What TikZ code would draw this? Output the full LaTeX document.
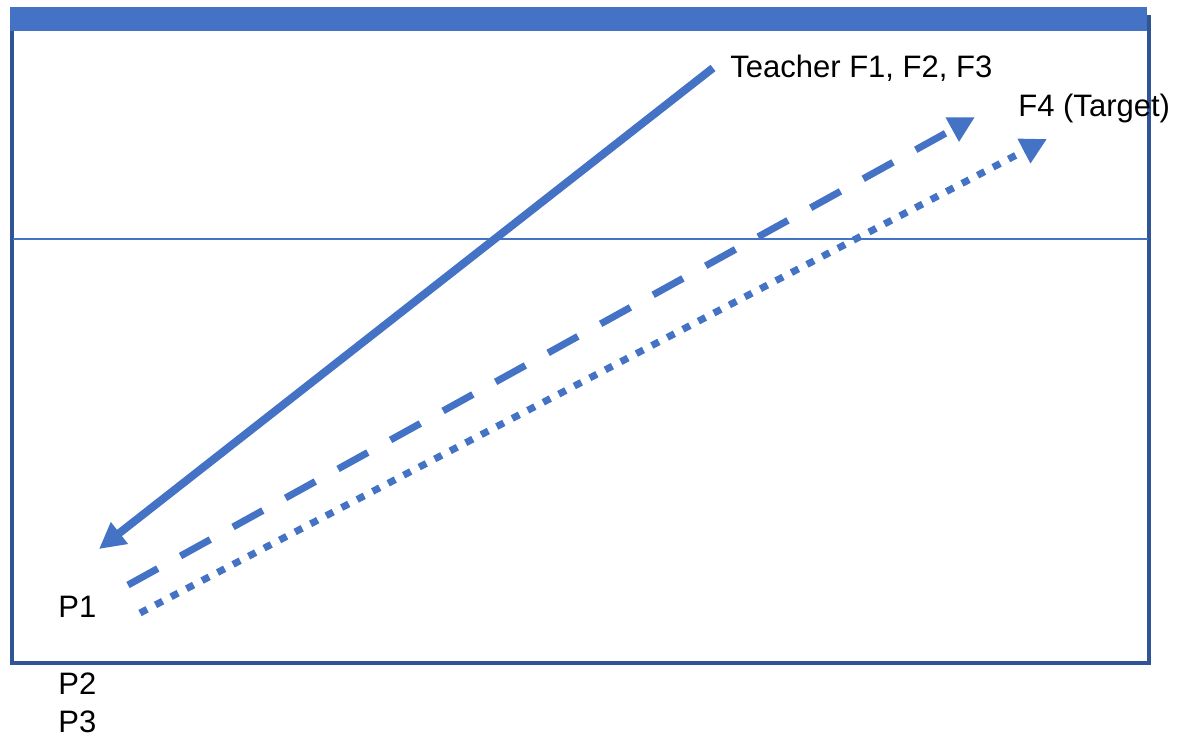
\documentclass[tikz,border=0pt]{standalone}
\usepackage{fontspec}
\setmainfont{Liberation Sans}
\usetikzlibrary{arrows.meta, positioning}
\definecolor{FrameBlue}{HTML}{2F5597}
\definecolor{AccentBlue}{HTML}{4472C4}
\tikzset{
  tag/.style={inner sep=0pt, anchor=base west, font=\fontsize{15.5}{18}\selectfont},
  frame/.style={draw=FrameBlue, line width=2pt},
  headbar/.style={fill=AccentBlue},
  divider/.style={draw=AccentBlue, line width=1.2pt},
  solidarrow/.style={-{Triangle[length=13pt, width=13pt]}, line width=4pt, draw=AccentBlue},
  dasharrow/.style={-{Triangle[length=13pt, width=13pt]}, line width=3.5pt, draw=AccentBlue, dash pattern=on 17pt off 13pt},
  dotarrow/.style={-{Triangle[length=13pt, width=13pt]}, line width=3.5pt, draw=AccentBlue, dash pattern=on 4pt off 4.75pt}
}
\begin{document}
\begin{tikzpicture}[x=0.5pt, y=-0.5pt]
\useasboundingbox (0,0) rectangle (1191,736);
% frame, title bar and divider
\draw[frame] (12,17) rectangle (1149,662.5);
\fill[headbar] (10,7) rectangle (1147,31);
\draw[divider] (13,239) -- (1148,239);
% labels
\node[tag] (teacher) at (730,77) {Teacher F1, F2, F3};
\node[tag] (target) at (1018,116) {F4 (Target)};
\node[tag] (p1) at (58,617) {P1};
\node[tag] (p2) at (58,694) {P2};
\node[tag] (p3) at (58,732) {P3};
% arrow ends
\coordinate (solidstart) at (713,68);
\coordinate (solidend) at (99,549);
\coordinate (dashstart) at (128,585);
\coordinate (dashend) at (975,117);
\coordinate (dotstart) at (140,613);
\coordinate (dotend) at (1047,139);
% arrows
\draw[solidarrow] (solidstart) -- (solidend);
\draw[dasharrow] (dashstart) -- (dashend);
\draw[dotarrow] (dotstart) -- (dotend);
\end{tikzpicture}
\end{document}
